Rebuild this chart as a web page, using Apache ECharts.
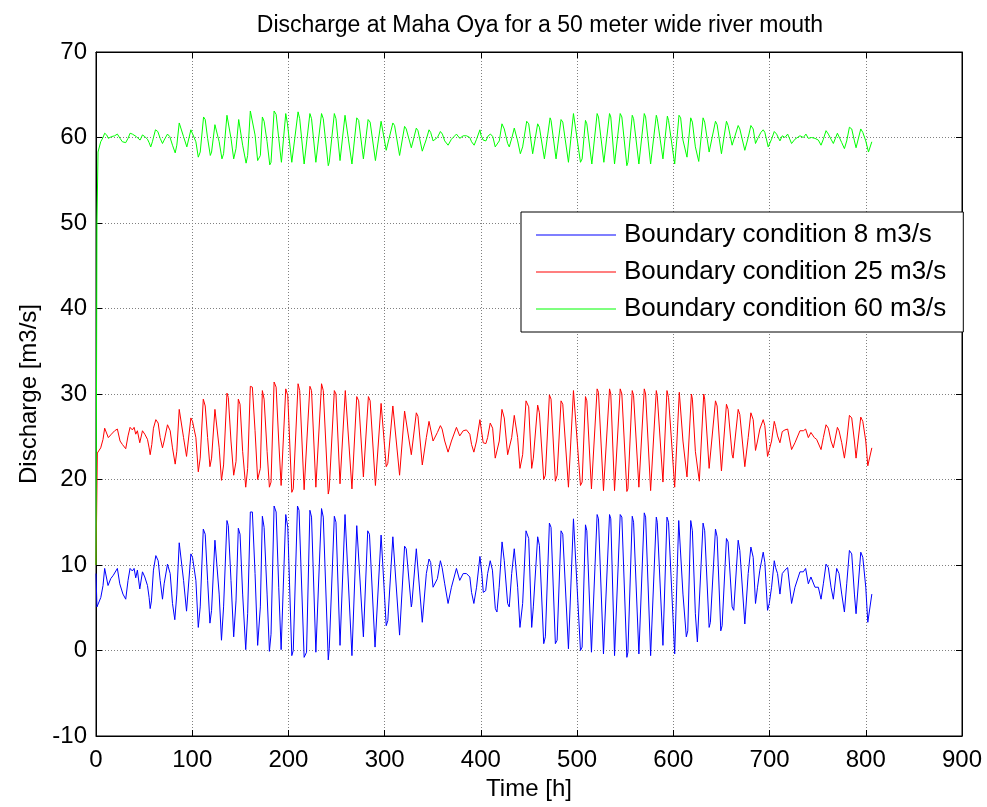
<!DOCTYPE html>
<html>
<head>
<meta charset="utf-8">
<script src="https://cdn.jsdelivr.net/npm/echarts@6/dist/echarts.min.js"></script>
<style>
html,body{margin:0;padding:0;background:#fff;}
#chart{width:987px;height:807px;}
</style>
</head>
<body>
<div id="chart"></div>
<script>
// Time [h], discharge [m3/s] pairs
const q8Series = [[0,9.0],[1,5.1],[2,5.2],[5,6.2],[7.3,7.6],[9,9.6],[10.8,9.4],[12.5,7.6],[15.3,8.4],[18,8.8],[22.2,9.6],[24.7,7.8],[28,6.6],[30.9,6.0],[33.3,8.2],[35.4,9.6],[37.8,9.3],[39.6,9.6],[41.3,8.5],[43,9.4],[45.5,7.2],[48.3,9.2],[50.7,8.6],[53.5,7.6],[55.2,6.2],[56.3,4.9],[57.6,5.8],[59.7,9.4],[62.2,11.1],[64.6,10.5],[66.7,8.2],[69.1,6.0],[70.8,7.8],[74.3,10.1],[77.1,9.0],[79.5,5.5],[81.9,3.6],[84,6.6],[86.5,12.6],[88.2,12.5],[91,8.2],[94.1,4.6],[95.8,4.7],[98.6,11.3],[100.3,10.9],[103.8,8.2],[106.3,2.7],[108.3,5.1],[111.5,14.2],[113.5,13.6],[116,8.2],[118.4,3.2],[120.1,4.7],[123.6,12.9],[125.3,12.9],[128,6.6],[130.4,1.2],[132.6,5.1],[136.1,15.2],[137.5,14.6],[140.3,8.2],[143.1,1.6],[145.5,5.8],[147.9,14.3],[149.7,13.6],[152.4,6.6],[155.6,0.1],[157.6,4.3],[160.4,16.2],[162.5,16.2],[165.3,9.0],[168,0.6],[170.8,5.1],[172.9,15.7],[174.7,14.4],[177.8,6.6],[180.2,-0.1],[181.9,1.9],[185.1,16.9],[187.2,16.2],[189.9,7.4],[192.4,0.1],[194.1,0.2],[197.2,15.9],[199.3,14.4],[203.5,-0.6],[205,0],[209.4,16.9],[211,16.4],[216.3,-0.8],[218.8,-0.2],[222.3,16.4],[224,15.6],[228.5,-0.2],[234.4,16.6],[236.2,15.6],[241.4,-1.1],[242.4,0.2],[247.7,15.7],[249.4,15.0],[253.6,0.6],[258.8,15.9],[259.8,16.0],[266,-0.6],[271,14.6],[273,14.8],[277.9,1.6],[279,1.8],[282.4,14.0],[284.2,13.6],[290,0.4],[291,0.4],[296.3,13.5],[298,13.6],[301.6,2.9],[303.3,3.5],[308.5,13.3],[310.3,13.3],[315.5,1.8],[320.7,12.2],[322.4,11.9],[327.7,5.1],[328.3,5.5],[332.9,11.9],[334.6,11.7],[339.1,3.3],[343.3,9.0],[346.1,10.7],[347.8,10.3],[350.3,7.4],[351.3,7.2],[354.8,8.4],[357.9,10.5],[359.7,9.7],[362.4,7.8],[365.9,5.5],[369.4,7.4],[374.6,9.6],[378,8.2],[381.6,9.0],[385,9.0],[388.5,8.6],[390.3,6.8],[392.7,5.5],[395.5,7.4],[399,11.0],[401,9.0],[402.5,6.8],[405,7.0],[407,9.0],[409.7,10.5],[412,9.4],[415,4.9],[416.7,4.5],[419,7.4],[422,12.7],[424.3,10.5],[427.8,5.5],[429.5,5.1],[432,9.0],[434.7,11.9],[438.2,7.4],[440.6,2.7],[443.4,5.5],[446.9,14.0],[449.7,13.1],[452.8,2.7],[454.5,5.1],[459,13.3],[460.8,12.3],[465.3,0.8],[467,1.6],[471.2,14.9],[472.9,14.4],[477.4,0.8],[479.2,1.2],[483.3,14.0],[485.1,13.6],[491,0.2],[496.2,15.4],[497.9,15.2],[503.5,0],[505.2,0.4],[508.7,14.7],[510.1,14.0],[514.9,-0.2],[516.3,-0.2],[520.8,15.9],[522.2,15.4],[527.4,-0.4],[533.7,15.9],[535,15.4],[538.9,-0.6],[544.8,15.9],[546.5,15.6],[551.7,-0.8],[552.8,-0.2],[557.3,15.7],[558.7,15.0],[564.2,-0.4],[569.8,16.1],[571.2,15.6],[576.4,-0.6],[582.3,15.6],[583.3,15.0],[589.2,0.6],[593.4,15.6],[595,15.0],[601.4,-0.4],[605.6,15.2],[607.3,15.2],[610,6.6],[613.5,1.6],[615,2.3],[618.1,15.2],[619.8,14.0],[622.9,4.3],[625,1.0],[626.7,1.2],[630.9,14.9],[632.6,14.0],[637.2,2.7],[638.5,3.3],[643.8,14.2],[645.5,13.3],[649.3,2.3],[650.7,2.9],[655.2,13.1],[656.9,12.7],[661.1,5.1],[662.8,4.7],[667.4,12.9],[669.1,11.7],[674.3,3.1],[677.8,9.0],[680.6,12.1],[683,10.9],[685.4,5.5],[687.5,7.4],[689.9,9.4],[693.4,11.5],[695.1,10.3],[697.9,4.7],[699.7,5.5],[702.1,7.4],[704.9,10.5],[706.3,9.7],[708.3,9.0],[710.8,6.6],[713.2,9.0],[716,9.4],[718.8,9.7],[722.9,5.5],[726.4,7.4],[728,7.2],[731.6,9.2],[735.1,9.2],[737.5,9.6],[740.3,7.8],[743,8.6],[745,8.8],[747.2,7.4],[750.7,7.4],[753.5,6.0],[755.9,7.8],[758.7,10.1],[761.1,9.7],[763.9,7.4],[766.3,6.0],[769.8,9.6],[772.2,9.0],[775,6.6],[777.8,4.5],[780.2,7.8],[783,11.7],[785.4,11.3],[788.2,6.6],[789.9,4.3],[791.7,4.3],[794.8,11.5],[796.9,10.9],[800,7.4],[802.1,3.3],[803.8,3.1],[806.3,6.6]];

const q25Series = [[0,10],[1.4,23.1],[4.9,23.7],[7.3,24.7],[9,26.0],[10.8,26.0],[12.8,24.9],[16,25.3],[19.4,25.7],[22.2,25.9],[25,24.5],[27.4,24.1],[30.9,23.6],[33.3,25.1],[35.4,26.1],[37.8,25.8],[39.6,26.1],[41.3,25.3],[43,25.7],[45.5,24.3],[48.3,25.7],[50.7,25.3],[53.5,24.7],[55.2,23.7],[56.3,22.9],[58,24.1],[59.7,26.0],[62.2,27.0],[64.6,26.6],[66.7,24.9],[69.1,23.7],[70.8,24.5],[74.3,26.4],[77.1,25.7],[79.5,23.7],[82.3,21.8],[84,23.3],[86.5,28.2],[88.2,28.0],[91,24.9],[94.1,22.7],[95.8,22.7],[98.6,27.2],[100.3,26.8],[103.8,24.9],[106.3,20.9],[108.3,22.5],[111.5,29.4],[113.5,28.6],[116,24.9],[118.4,21.5],[120.1,22.5],[123.6,28.2],[125.3,28.2],[128,23.7],[130.4,19.9],[132.6,21.7],[136.1,30.1],[137.5,29.6],[140.3,24.5],[143.1,20.5],[145.5,22.1],[147.9,29.4],[149.7,28.8],[152.4,23.3],[155.6,19.1],[157.6,21.3],[160.4,30.9],[162.5,30.8],[165.3,25.7],[168,20.0],[170.8,21.3],[172.9,30.4],[174.7,29.4],[177.8,23.3],[180.2,19.1],[181.9,19.7],[185.1,31.4],[187.2,30.8],[189.9,24.5],[192.4,19.3],[194.1,19.5],[197.2,30.6],[199.3,29.8],[203.5,18.5],[205,18.9],[210,31.2],[211.7,30.4],[216.3,18.8],[218.1,18.8],[222.3,30.9],[224,30.4],[228.5,19.1],[234.4,31.2],[236.2,30.4],[241.4,18.3],[242.4,18.9],[247.7,30.4],[249.4,30.0],[253.6,19.5],[259.1,30.4],[266,18.9],[271,29.7],[273,29.2],[277.9,20.3],[279,20.5],[283.1,29.7],[284.9,29.2],[290.4,19.3],[296.3,28.9],[298,29.0],[301.6,21.5],[303.3,21.9],[308.5,28.6],[310.3,28.5],[315.5,20.5],[320.7,28.0],[322.4,27.8],[327.7,22.9],[328.3,22.9],[332.9,27.8],[334.6,27.4],[339.1,21.7],[343.3,24.9],[346.1,26.8],[347.8,26.6],[350.3,24.5],[352,24.3],[354.8,25.5],[357.9,26.3],[359.7,25.9],[362.4,24.5],[365.9,23.2],[369.4,24.5],[374.6,26.1],[378,25.1],[381.6,25.7],[385,25.8],[388.5,25.3],[390.3,24.1],[392.7,23.2],[395.5,24.5],[399,27.0],[400.5,25.8],[402.4,24.3],[405.2,24.2],[407,24.9],[409.7,26.6],[412.2,26.0],[414.9,22.5],[416.7,22.3],[419.1,24.5],[421.9,28.2],[424.3,27.2],[427.8,22.9],[429.5,22.7],[432,24.9],[434.7,27.5],[438.2,24.9],[440.6,21.3],[443.4,22.9],[446.9,29.2],[449.7,28.5],[452.8,21.3],[454.5,22.5],[459,28.7],[460.8,27.8],[465.3,20.0],[467,20.5],[471.2,29.9],[472.9,29.4],[477.4,19.8],[479.2,20.5],[483.3,29.2],[485.1,28.8],[491,19.1],[496.2,30.4],[497.9,30.2],[503.5,19.3],[505.2,19.7],[508.7,29.7],[510.1,29.2],[514.9,18.9],[516.3,18.9],[520.8,30.6],[522.2,30.2],[527.4,18.7],[533.7,30.6],[535,30.0],[538.9,18.7],[544.8,30.6],[546.5,30.0],[551.7,18.6],[552.8,18.9],[557.3,30.4],[558.7,29.8],[564.2,19.1],[569.8,30.6],[571.2,30.0],[576.4,18.7],[582.3,30.4],[583.3,29.8],[589.2,19.7],[593.4,30.4],[595,29.6],[601.4,19.1],[606.2,30.2],[607.6,30.0],[610,24.5],[614.2,20.3],[618.8,30.0],[619.8,29.4],[622.9,23.3],[627,19.8],[628,19.9],[631.6,30.0],[632.6,29.4],[637.2,21.3],[638.5,21.5],[643.8,29.2],[645.5,28.6],[650,21.0],[650.7,21.1],[655.2,28.8],[656.9,28.2],[661.1,22.9],[662.1,22.5],[667.4,28.2],[669.1,27.6],[674.3,21.5],[677.8,24.9],[680.6,27.8],[683,27.0],[685.4,23.4],[687.5,24.5],[689.9,25.9],[693.4,27.0],[695.1,26.3],[697.9,22.7],[699.7,22.9],[702.1,24.5],[704.9,26.8],[706.3,26.2],[708.3,25.1],[710.8,24.3],[713.2,25.6],[716,25.8],[718.8,25.9],[722.9,23.5],[726.4,24.3],[728,24.5],[731.6,25.7],[735.1,25.7],[737.5,25.9],[740.3,24.9],[743,25.5],[746.5,24.9],[748.9,24.7],[750.7,24.9],[753.5,23.5],[755.9,24.9],[758.7,26.4],[761.1,26.0],[763.9,24.5],[766.3,23.7],[770.5,26.1],[772.2,25.7],[775,24.3],[777.8,22.5],[780.2,24.5],[783,27.5],[785.4,27.2],[788.2,24.5],[789.9,22.5],[791.7,22.4],[794.8,27.3],[796.9,26.8],[800,24.5],[802.1,21.6],[803.8,21.5],[806.3,23.7]];

const q60Series = [[0,10],[1,50],[2.1,58.3],[4.9,59.5],[7.3,60.0],[9,60.5],[11.1,60.3],[12.8,59.9],[16,60.1],[19.4,60.2],[22.2,60.4],[25,59.9],[27.4,59.5],[30.9,59.4],[33.3,59.9],[35.4,60.5],[37.8,60.4],[39.6,60.5],[42,60.1],[44,60.3],[45.8,59.7],[48.3,60.3],[50.7,60.1],[53.5,59.8],[55.2,59.4],[56.9,58.9],[58.6,59.5],[61.8,60.9],[64.2,60.7],[66.7,59.9],[69.1,59.3],[70.8,59.7],[74.3,60.4],[76.7,60.1],[79.5,59.1],[82.3,58.2],[84,59.1],[86.5,61.7],[88.2,61.5],[91,60.1],[94.4,58.9],[95.8,59.1],[98.6,60.9],[100.3,60.8],[103.8,59.5],[106.3,57.7],[108.3,58.3],[111.8,62.4],[113.5,62.1],[116,59.9],[118.8,57.9],[120.1,58.3],[123.6,61.5],[125.3,61.3],[128,59.5],[130.9,57.5],[132.6,58.1],[136.1,62.6],[137.5,62.4],[140.3,59.9],[143.1,57.5],[145.5,58.7],[148.3,62.1],[149.7,61.9],[152.4,59.1],[156,57.0],[157.6,57.9],[160.4,63.1],[162.1,62.9],[165.3,60.3],[168,57.3],[170.8,57.9],[172.9,62.4],[174.7,61.9],[177.8,59.5],[180.6,56.8],[181.9,57.1],[185.1,63.1],[187.2,62.7],[189.9,59.9],[192.7,57.1],[194.1,57.3],[197.2,62.8],[199,61.6],[203.5,57.1],[205,57.3],[210,63.0],[211.7,62.2],[216.3,56.9],[218.1,56.9],[222.3,62.8],[224,62.2],[228.5,57.1],[234.4,62.8],[236.2,62.2],[241.4,56.7],[242.4,57.1],[247.7,62.8],[249.4,62.2],[253.6,57.3],[258.8,62.6],[259.8,62.4],[266,56.9],[271,62.3],[273,62.0],[277.9,57.5],[279,57.5],[282.8,62.1],[284.9,61.8],[290.4,57.3],[296.3,61.9],[298,61.8],[301.6,58.5],[303.3,58.7],[308.5,61.7],[310.3,61.4],[315.5,57.9],[320.7,61.3],[322.4,61.0],[327.7,58.8],[328.7,58.9],[332.9,61.1],[334.6,60.8],[339.1,58.4],[343.3,59.8],[346.1,60.9],[347.8,60.6],[350.3,59.6],[351.6,59.5],[354.8,60.0],[357.9,60.7],[360,60.4],[362.4,59.6],[365.9,59.1],[369.4,59.8],[374.6,60.4],[378,59.9],[381.6,60.2],[385,60.2],[388.5,60.0],[390.3,59.5],[393,59.1],[395.5,59.8],[399,60.9],[400,60.3],[402.4,59.7],[405.2,59.6],[407.6,60.2],[410,60.4],[412.4,60.1],[414.9,58.9],[416.7,58.7],[419.1,59.6],[421.9,61.6],[424.3,61.0],[427.8,59.3],[429.5,58.9],[432.3,60.0],[434.7,61.1],[438.2,59.6],[441,58.1],[443.4,58.9],[447.6,61.9],[449.7,61.6],[453.8,58.1],[459,61.6],[460.8,61.2],[466,57.5],[467,57.7],[471.9,62.3],[472.9,62.0],[478.1,57.5],[479.2,57.7],[483.3,62.1],[485.1,61.8],[491,57.1],[496.2,62.8],[497.9,62.6],[503.5,57.1],[505.2,57.5],[508.7,62.0],[510.1,61.6],[515.3,56.9],[516.3,56.9],[520.8,62.8],[522.2,62.4],[527.8,57.1],[533.7,62.8],[535,62.4],[538.9,56.9],[544.8,62.8],[546.5,62.4],[551.7,56.7],[552.8,57.1],[557.3,62.6],[558.7,62.2],[564.2,56.9],[569.8,62.8],[571.2,62.4],[576.4,56.9],[582.3,62.6],[583.3,62.2],[589.2,57.5],[593.8,62.5],[595,62.0],[601.4,56.9],[605.9,62.6],[607.6,62.3],[610,59.7],[614.2,57.7],[618.1,62.3],[619.8,61.8],[622.9,58.9],[626.4,57.2],[630.9,62.3],[632.6,61.8],[637.2,58.3],[638.5,58.5],[643.8,61.9],[645.5,61.5],[650,58.1],[655.2,61.9],[656.9,61.4],[661.1,59.1],[662.5,58.9],[667.4,61.4],[669.1,61.0],[674.3,58.5],[677.8,60.0],[680.6,61.4],[683,61.0],[685.4,59.3],[688.2,60.0],[691,60.6],[693.4,60.9],[695.1,60.6],[698.6,58.9],[702.1,59.8],[704.9,60.7],[707.3,60.4],[710.8,59.6],[713.2,60.2],[716,60.0],[718.8,60.4],[722.9,59.3],[726.4,59.8],[728,59.6],[731.6,60.2],[735.1,60.0],[737.8,60.4],[740.3,59.9],[743.7,60.0],[747.2,59.9],[750.7,59.7],[753.5,59.1],[755.9,59.8],[758.7,60.8],[761.1,60.4],[763.9,59.8],[766.3,59.3],[770.5,60.5],[772.2,60.3],[775,59.4],[777.8,58.7],[780.2,59.6],[783,61.2],[785.4,61.0],[788.2,59.6],[789.9,58.8],[791.7,58.9],[794.8,61.0],[796.9,60.6],[800,59.6],[802.8,58.3],[804.5,58.5],[806.3,59.5]];

const seriesNames = ['Boundary condition 8 m3/s', 'Boundary condition 25 m3/s', 'Boundary condition 60 m3/s'];
const seriesColors = ['#0000ff', '#ff0000', '#00ff00'];
const titleText = 'Discharge at Maha Oya for a 50 meter wide river mouth';
const xName = 'Time [h]';
const yName = 'Discharge [m3/s]';
const xMin = 0, xMax = 900, xStep = 100;
const yMin = -10, yMax = 70, yStep = 10;

const FONT = 'Liberation Sans, Arial, sans-serif';
const chart = echarts.init(document.getElementById('chart'), null, {renderer: 'canvas'});

const gridLine = {show: true, lineStyle: {color: '#808080', type: [1, 2], width: 1}};
const baseX = {type: 'value', min: xMin, max: xMax, interval: xStep, gridIndex: 0};
const baseY = {type: 'value', min: yMin, max: yMax, interval: yStep, gridIndex: 0};

const option = {
  animation: false,
  backgroundColor: '#ffffff',
  title: {
    text: titleText, left: 535, top: 9, textAlign: 'center',
    textStyle: {fontFamily: FONT, fontSize: 23, fontWeight: 'normal', color: '#000'}
  },
  grid: {left: 96, right: 25, top: 52, bottom: 71, show: true, borderColor: '#000', borderWidth: 1, backgroundColor: '#fff'},
  legend: {
    orient: 'vertical', left: 521, top: 212,
    padding: [10, 17, 10, 15], itemGap: 11, itemWidth: 80, itemHeight: 1,
    icon: 'rect',
    backgroundColor: '#fff', borderColor: '#000', borderWidth: 1,
    textStyle: {fontFamily: FONT, fontSize: 26, color: '#000', lineHeight: 26, padding: [0, 0, 0, 3]},
    data: seriesNames
  },
  xAxis: [
    Object.assign({}, baseX, {
      position: 'bottom', name: xName, nameLocation: 'middle', nameGap: 37,
      nameTextStyle: {fontFamily: FONT, fontSize: 24, color: '#000'},
      axisLine: {show: true, onZero: false, lineStyle: {color: '#000', width: 1}},
      axisTick: {show: true, inside: true, length: 6, lineStyle: {color: '#000'}},
      axisLabel: {fontFamily: FONT, fontSize: 24, color: '#000', margin: 12},
      splitLine: gridLine
    }),
    Object.assign({}, baseX, {
      position: 'top',
      axisLine: {show: true, onZero: false, lineStyle: {color: '#000', width: 1}},
      axisTick: {show: true, inside: true, length: 6, lineStyle: {color: '#000'}},
      axisLabel: {show: false}, splitLine: {show: false}
    })
  ],
  yAxis: [
    Object.assign({}, baseY, {
      position: 'left', name: yName, nameLocation: 'middle', nameGap: 55,
      nameTextStyle: {fontFamily: FONT, fontSize: 24, color: '#000'},
      axisLine: {show: true, onZero: false, lineStyle: {color: '#000', width: 1}},
      axisTick: {show: true, inside: true, length: 6, lineStyle: {color: '#000'}},
      axisLabel: {fontFamily: FONT, fontSize: 24, color: '#000', margin: 9},
      splitLine: gridLine
    }),
    Object.assign({}, baseY, {
      position: 'right',
      axisLine: {show: true, onZero: false, lineStyle: {color: '#000', width: 1}},
      axisTick: {show: true, inside: true, length: 6, lineStyle: {color: '#000'}},
      axisLabel: {show: false}, splitLine: {show: false}
    })
  ],
  series: [q8Series, q25Series, q60Series].map(function (d, i) {
    return {
      name: seriesNames[i], type: 'line', data: d,
      xAxisIndex: 0, yAxisIndex: 0,
      showSymbol: false, symbol: 'none', smooth: false,
      lineStyle: {color: seriesColors[i], width: 1},
      itemStyle: {color: seriesColors[i]},
      emphasis: {disabled: true}
    };
  })
};
chart.setOption(option);
</script>
</body>
</html>
